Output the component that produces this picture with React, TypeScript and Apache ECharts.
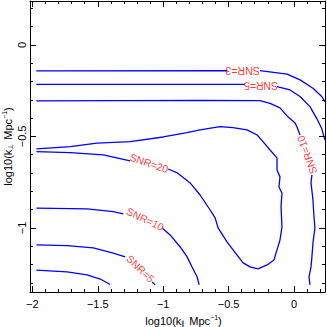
import React, { useEffect, useRef } from "react";
import * as echarts from "echarts";

// Axis ranges and ticks
const X_MIN = -2.018;
const X_MAX = 0.237;
const Y_MIN = -1.35;
const Y_MAX = 0.24;
const xMajorTicks = [-2, -1.5, -1, -0.5, 0];
const xMinorTicks = [-1.9, -1.8, -1.7, -1.6, -1.4, -1.3, -1.2, -1.1, -0.9, -0.8, -0.7, -0.6, -0.4, -0.3, -0.2, -0.1, 0.1, 0.2];
const yMajorTicks = [-1, -0.5, 0];
const yMinorTicks = [-1.3, -1.2, -1.1, -0.9, -0.8, -0.7, -0.6, -0.4, -0.3, -0.2, -0.1, 0.1, 0.2];

// Contour lines (log10 k_par, log10 k_perp)
const snr3TopA = [[-1.97, -0.142], [-0.51, -0.141]];
const snr3TopB = [[-0.26, -0.141], [-0.053, -0.16], [0.046, -0.191], [0.145, -0.237], [0.214, -0.283], [0.237, -0.31]];
const snr5TopA = [[-1.97, -0.216], [-0.374, -0.216]];
const snr5TopB = [[-0.13, -0.228], [-0.03, -0.246], [0.046, -0.282], [0.122, -0.337], [0.173, -0.401], [0.211, -0.455], [0.229, -0.501], [0.237, -0.52]];
const snr10TopA = [[-1.97, -0.306], [-0.718, -0.303], [-0.26, -0.304], [-0.183, -0.319], [-0.107, -0.344], [-0.046, -0.393], [0.008, -0.426], [0.023, -0.448], [0.046, -0.492]];
const snr10TopB = [[0.137, -0.71], [0.13, -0.754], [0.145, -0.847], [0.153, -0.94], [0.16, -1.0], [0.145, -1.082], [0.137, -1.158], [0.13, -1.213], [0.115, -1.268], [0.122, -1.311]];
const snr20A = [
  [-1.969, -0.568], [-1.71, -0.556], [-1.506, -0.537], [-1.252, -0.528], [-1.0, -0.503], [-0.817, -0.479],
  [-0.718, -0.464], [-0.565, -0.446], [-0.466, -0.452], [-0.359, -0.464], [-0.282, -0.492], [-0.237, -0.528],
  [-0.183, -0.574], [-0.13, -0.617], [-0.13, -0.683], [-0.107, -0.721], [-0.115, -0.776], [-0.092, -0.809],
  [-0.099, -0.885], [-0.092, -0.995], [-0.107, -1.066], [-0.13, -1.12], [-0.153, -1.175], [-0.206, -1.202],
  [-0.275, -1.224], [-0.336, -1.213], [-0.389, -1.191], [-0.435, -1.148], [-0.511, -1.077], [-0.58, -1.0],
  [-0.603, -0.945], [-0.641, -0.902], [-0.718, -0.82], [-0.794, -0.754], [-0.893, -0.699], [-0.962, -0.678],
];
const snr20B = [[-1.252, -0.634], [-1.458, -0.601], [-1.71, -0.589], [-1.969, -0.583]];
const snr10LowA = [[-1.969, -0.892], [-1.582, -0.896], [-1.382, -0.911], [-1.305, -0.923]];
const snr10LowB = [[-1.008, -1.0], [-0.947, -1.038], [-0.87, -1.104], [-0.817, -1.158], [-0.779, -1.213], [-0.74, -1.268], [-0.725, -1.311]];
const snr5LowA = [[-1.969, -1.093], [-1.735, -1.097], [-1.534, -1.109], [-1.382, -1.137], [-1.29, -1.158]];
const snr5LowB = [[-1.084, -1.295], [-1.061, -1.311]];
const snr3Low = [[-1.969, -1.23], [-1.735, -1.24], [-1.582, -1.257], [-1.481, -1.279], [-1.405, -1.309]];

const contourSegments = [snr3TopA, snr3TopB, snr5TopA, snr5TopB, snr10TopA, snr10TopB, snr20A, snr20B, snr10LowA, snr10LowB, snr5LowA, snr5LowB, snr3Low];

// Contour labels
const labelTexts = ["SNR=3", "SNR=5", "SNR=10", "SNR=20", "SNR=10", "SNR=5"];
const labelX = [-0.393, -0.252, 0.099, -1.107, -1.137, -1.176];
const labelY = [-0.141, -0.224, -0.601, -0.645, -0.951, -1.224];
const labelAngles = [180, 180, 110, -19, -26, -44];

const FONT = "'Liberation Sans', Arial, Helvetica, sans-serif";
const fmt = (v: number) => {
  const s = String(Math.round(v * 100) / 100);
  return s.replace("-", "\u2212");
};

const richName = {
  n: { fontSize: 11, fontFamily: FONT, color: "#000", lineHeight: 13 },
  sub: { fontSize: 7, fontFamily: FONT, color: "#000", verticalAlign: "bottom", lineHeight: 8, padding: [0, 1, 0, 0] },
  sup: { fontSize: 7, fontFamily: FONT, color: "#000", verticalAlign: "top", lineHeight: 8 },
};

function xAx(position: "bottom" | "top", major: boolean, extra: any = {}) {
  return {
    type: "value",
    min: X_MIN,
    max: X_MAX,
    position,
    axisLine: { show: major, onZero: false, lineStyle: { color: "#000", width: 1 } },
    axisTick: { show: true, inside: true, length: major ? 6 : 3, customValues: major ? xMajorTicks : xMinorTicks, lineStyle: { color: "#000", width: 1 } },
    axisLabel: { show: false },
    splitLine: { show: false },
    ...extra,
  };
}
function yAx(position: "left" | "right", major: boolean, extra: any = {}) {
  return {
    type: "value",
    min: Y_MIN,
    max: Y_MAX,
    position,
    axisLine: { show: major, onZero: false, lineStyle: { color: "#000", width: 1 } },
    axisTick: { show: true, inside: true, length: major ? 6 : 3, customValues: major ? yMajorTicks : yMinorTicks, lineStyle: { color: "#000", width: 1 } },
    axisLabel: { show: false },
    splitLine: { show: false },
    ...extra,
  };
}

export default function App() {
  const ref = useRef<HTMLDivElement>(null);
  useEffect(() => {
    if (!ref.current) return;
    const chart = echarts.init(ref.current, null, { renderer: "svg" });
    const lineSeries = contourSegments.map((seg) => ({
      type: "line",
      data: seg,
      xAxisIndex: 0,
      yAxisIndex: 0,
      showSymbol: false,
      symbol: "none",
      lineStyle: { color: "#0000ff", width: 1.3 },
      silent: true,
      z: 2,
    }));
    const labelSeries = {
      type: "scatter",
      xAxisIndex: 0,
      yAxisIndex: 0,
      symbolSize: 0,
      silent: true,
      z: 3,
      data: labelTexts.map((t, i) => ({
        value: [labelX[i], labelY[i]],
        name: t,
        label: { rotate: labelAngles[i] },
      })),
      label: {
        show: true,
        position: "inside",
        formatter: (p: any) => p.name,
        color: "#ff0000",
        fontSize: 10.5,
        fontFamily: FONT,
      },
    };
    chart.setOption({
      animation: false,
      backgroundColor: "#fff",
      grid: { left: 30, right: 2, top: 1, bottom: 35, containLabel: false, outerBoundsMode: "none" },
      xAxis: [
        xAx("bottom", true, {
          axisLabel: { show: true, customValues: xMajorTicks, formatter: fmt, fontSize: 11, fontFamily: FONT, color: "#000", margin: 6 },
          name: "{n|log10(k}{sub|\u2225}{n| Mpc}{sup|\u22121}{n|)}",
          nameLocation: "middle",
          nameGap: 22,
          nameMoveOverlap: false,
          nameTextStyle: { rich: richName, padding: [0, 0, 0, 12] },
        }),
        xAx("bottom", false),
        xAx("top", true),
        xAx("top", false),
      ],
      yAxis: [
        yAx("left", true, {
          axisLabel: { show: true, customValues: yMajorTicks, formatter: fmt, fontSize: 11, fontFamily: FONT, color: "#000", margin: 3, rotate: 90 },
          name: "{n|log10(k}{sub|\u22a5}{n| Mpc}{sup|\u22121}{n|)}",
          nameLocation: "middle",
          nameGap: 16,
          nameMoveOverlap: false,
          nameTextStyle: { rich: richName },
        }),
        yAx("left", false),
        yAx("right", true),
        yAx("right", false),
      ],
      series: [...lineSeries, labelSeries],
    });
    return () => chart.dispose();
  }, []);
  return <div ref={ref} style={{ position: "fixed", left: 0, top: 0, width: 327, height: 327, background: "#fff" }} />;
}
